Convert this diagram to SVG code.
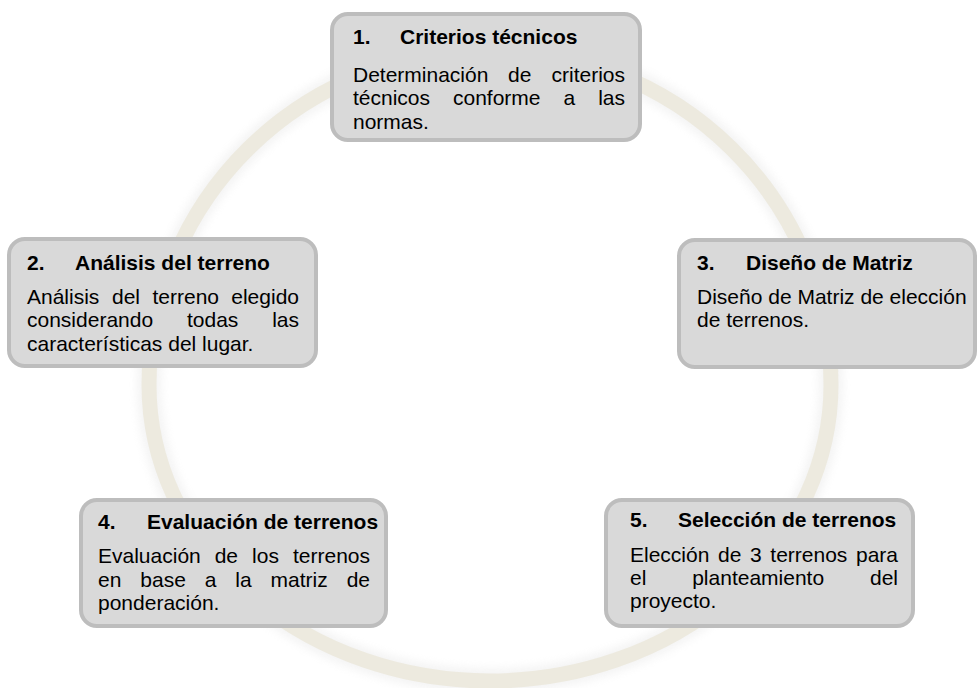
<svg xmlns="http://www.w3.org/2000/svg" width="977" height="688" viewBox="0 0 977 688">
  <defs>
    <filter id="haze" x="-10%" y="-10%" width="120%" height="120%">
      <feGaussianBlur stdDeviation="4"/>
    </filter>
    <style>
      .box { fill: #D9D9D9; stroke: #BDBDBD; stroke-width: 4; }
      .title { font-family: "Liberation Sans", Arial, sans-serif; font-size: 21px; font-weight: bold; fill: #000; }
      .body { font-family: "Liberation Sans", Arial, sans-serif; font-size: 21px; fill: #000; }
      .end { text-anchor: end; }
      .ring { fill: none; stroke: #EDEADF; stroke-width: 15; }
      .ring-haze { fill: none; stroke: #E6E6E6; stroke-width: 24; opacity: 0.45; filter: url(#haze); }
    </style>
  </defs>
  <rect width="977" height="688" fill="#FFFFFF"/>

  <g id="connectors">
    <path class="ring-haze" d="M 149,385 A 341 335 0 0 1 831,385 A 341 296 0 0 1 149,385 Z"/>
    <path class="ring" d="M 149,385 A 341 335 0 0 1 831,385 A 341 296 0 0 1 149,385 Z"/>
  </g>

  <g id="node1">
    <rect class="box" x="332" y="14" width="308" height="126" rx="16"/>
    <text class="title" y="44"><tspan x="353">1.</tspan><tspan x="400">Criterios técnicos</tspan></text>
    <text class="body" y="82"><tspan x="353">Determinación</tspan><tspan x="508">de</tspan><tspan x="625" class="end">criterios</tspan></text>
    <text class="body" y="105"><tspan x="353">técnicos</tspan><tspan x="453">conforme</tspan><tspan x="563.5">a</tspan><tspan x="625" class="end">las</tspan></text>
    <text class="body" x="353" y="129">normas.</text>
  </g>

  <g id="node2">
    <rect class="box" x="9" y="239" width="307" height="127" rx="16"/>
    <text class="title" y="270"><tspan x="27">2.</tspan><tspan x="75">Análisis del terreno</tspan></text>
    <text class="body" y="304"><tspan x="27">Análisis</tspan><tspan x="112">del</tspan><tspan x="152.5">terreno</tspan><tspan x="299" class="end">elegido</tspan></text>
    <text class="body" y="327"><tspan x="27">considerando</tspan><tspan x="187">todas</tspan><tspan x="299" class="end">las</tspan></text>
    <text class="body" x="27" y="351">características del lugar.</text>
  </g>

  <g id="node3">
    <rect class="box" x="679" y="240" width="296" height="127" rx="16"/>
    <text class="title" y="270"><tspan x="697">3.</tspan><tspan x="746">Diseño de Matriz</tspan></text>
    <text class="body" x="697" y="304">Diseño de Matriz de elección</text>
    <text class="body" x="697" y="327">de terrenos.</text>
  </g>

  <g id="node4">
    <rect class="box" x="81" y="500" width="305" height="126" rx="16"/>
    <text class="title" y="529"><tspan x="98">4.</tspan><tspan x="147">Evaluación de terrenos</tspan></text>
    <text class="body" y="563"><tspan x="98">Evaluación</tspan><tspan x="214.7">de</tspan><tspan x="252.1">los</tspan><tspan x="370" class="end">terrenos</tspan></text>
    <text class="body" y="587"><tspan x="98">en</tspan><tspan x="140.3">base</tspan><tspan x="204.7">a</tspan><tspan x="235.3">la</tspan><tspan x="270.5">matriz</tspan><tspan x="370" class="end">de</tspan></text>
    <text class="body" x="98" y="610">ponderación.</text>
  </g>

  <g id="node5">
    <rect class="box" x="606" y="500" width="307" height="126" rx="16"/>
    <text class="title" y="527"><tspan x="630">5.</tspan><tspan x="678">Selección de terrenos</tspan></text>
    <text class="body" y="562"><tspan x="630">Elección</tspan><tspan x="718">de</tspan><tspan x="750">3</tspan><tspan x="770.3">terrenos</tspan><tspan x="898" class="end">para</tspan></text>
    <text class="body" y="585"><tspan x="630">el</tspan><tspan x="692.2">planteamiento</tspan><tspan x="898" class="end">del</tspan></text>
    <text class="body" x="630" y="608">proyecto.</text>
  </g>
</svg>
